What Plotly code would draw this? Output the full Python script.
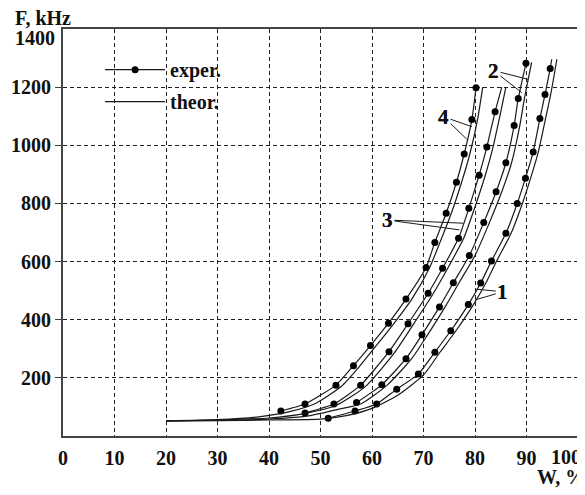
import plotly.graph_objects as go

# ---- data (W, % ; F, kHz) ----
exp4_w = [42.3, 47.0, 53.0, 56.4, 59.7, 63.2, 66.6, 70.5, 72.2, 74.4, 76.4, 77.9, 79.4, 80.2]
exp4_f = [86, 110, 175, 242, 311, 388, 471, 580, 666, 766, 873, 970, 1089, 1198]
th4_w = [20, 30, 38, 44, 49, 54, 57.5, 60.7, 64.2, 67.7, 71.2, 73.2, 75.4, 77.4, 79.0, 80.5, 81.5]
th4_f = [52, 56, 66, 84, 112, 170, 238, 308, 386, 470, 580, 666, 766, 873, 970, 1089, 1200]

exp3_w = [47.0, 52.6, 57.8, 63.3, 67.0, 70.9, 73.7, 76.8, 78.8, 80.8, 82.3, 83.9, 85.2]
exp3_f = [79, 110, 175, 290, 386, 491, 577, 680, 783, 897, 994, 1115, 1200]
exp3_dot = [1, 1, 1, 1, 1, 1, 1, 1, 1, 1, 1, 1, 0]
th3_w = [20, 30, 40, 47, 53, 58.7, 64.3, 68.0, 71.9, 74.7, 77.8, 79.9, 82.0, 83.5, 85.0, 86.0]
th3_f = [52, 55, 62, 78, 105, 170, 285, 383, 490, 577, 680, 783, 897, 994, 1115, 1200]

exp2_w = [57.0, 61.9, 66.6, 69.7, 73.1, 75.8, 78.9, 81.7, 84.1, 86.0, 87.6, 88.4, 89.9]
exp2_f = [115, 176, 266, 348, 444, 527, 621, 734, 840, 940, 1068, 1161, 1282]
th2_w = [20, 30, 40, 48, 53, 58, 63, 67.7, 70.8, 74.2, 76.9, 80.0, 82.8, 85.2, 87.1, 88.7, 89.6, 91.0]
th2_f = [52, 54, 58, 70, 90, 112, 176, 266, 348, 444, 527, 621, 734, 840, 940, 1068, 1161, 1285]

exp1_w = [51.5, 56.7, 60.9, 64.8, 69.0, 72.2, 75.3, 78.7, 81.1, 83.2, 86.0, 88.2, 89.8, 91.3, 92.6, 93.6, 94.6, 94.9]
exp1_f = [61, 86, 110, 161, 213, 288, 362, 452, 526, 602, 697, 800, 887, 977, 1092, 1175, 1264, 1296]
exp1_dot = [1] * 17 + [0]
th1_w = [20, 30, 40, 50, 55, 60, 65, 70, 73.2, 76.3, 79.7, 82.1, 84.2, 87.0, 89.2, 90.8, 92.3, 93.7, 94.7, 95.9]
th1_f = [52, 53, 55, 58, 70, 95, 140, 210, 288, 362, 452, 526, 602, 697, 800, 887, 977, 1092, 1175, 1296]

x_ticks = [0, 10, 20, 30, 40, 50, 60, 70, 80, 90, 100]
y_ticks = [200, 400, 600, 800, 1000, 1200, 1400]

# curve labels: (text, text W, text F, [(W, F) targets])
labels = [
    ("4", 73.9, 1098, [(79.4, 1064), (78.4, 1021)]),
    ("2", 83.6, 1257, [(90.3, 1227), (89.1, 1181)]),
    ("3", 63.0, 743, [(77.7, 732), (77.0, 709)]),
    ("1", 85.4, 496, [(80.3, 505), (80.0, 468)]),
]

FONT = "Liberation Serif"
INK = "#1a1a1a"
BOLD = dict(family=FONT, size=20, color="#111", weight="bold")

fig = go.Figure()

exper = [(exp4_w, exp4_f, None), (exp3_w, exp3_f, exp3_dot), (exp2_w, exp2_f, None), (exp1_w, exp1_f, exp1_dot)]
theor = [(th4_w, th4_f), (th3_w, th3_f), (th2_w, th2_f), (th1_w, th1_f)]

for i, (w, f, dots) in enumerate(exper):
    sizes = 7 if dots is None else [7 if d else 0 for d in dots]
    fig.add_trace(go.Scatter(
        x=w, y=f, mode="lines+markers", name="exper.",
        line=dict(color=INK, width=1.2, shape="spline", smoothing=0.5),
        marker=dict(color="black", size=sizes, opacity=1, line=dict(width=0)),
        showlegend=(i == 0), legendrank=1, legendgroup="e",
    ))
for i, (w, f) in enumerate(theor):
    fig.add_trace(go.Scatter(
        x=w, y=f, mode="lines", name="theor.",
        line=dict(color=INK, width=1.2, shape="spline", smoothing=0.6),
        showlegend=(i == 0), legendrank=2, legendgroup="t",
    ))

annotations = []
for text, tw, tf, targets in labels:
    for (pw, pf) in targets:
        annotations.append(dict(
            x=pw, y=pf, ax=tw, ay=tf, xref="x", yref="y", axref="x", ayref="y",
            text=text, showarrow=True, arrowhead=0, arrowwidth=1, arrowcolor=INK,
            standoff=0, startstandoff=0,
            font=dict(family=FONT, size=21, color="#111", weight="bold"),
        ))
annotations.append(dict(
    text="F, kHz", xref="paper", yref="paper", x=-0.097, y=1.026,
    xanchor="left", yanchor="middle", showarrow=False,
    font=dict(family=FONT, size=20, color="#111", weight="bold"),
))
annotations.append(dict(
    text="W, %", xref="paper", yref="paper", x=0.9165, y=-0.1,
    xanchor="left", yanchor="middle", showarrow=False,
    font=dict(family=FONT, size=20, color="#111", weight="bold"),
))
# top y label sits a little below its gridline in the reference
annotations.append(dict(
    text=str(y_ticks[-1]), xref="paper", yref="paper", x=-0.012, y=0.978,
    xanchor="right", yanchor="middle", showarrow=False, font=BOLD,
))
# last x label is pushed left against the page edge in the reference
annotations.append(dict(
    text=str(x_ticks[-1]), xref="paper", yref="paper", x=1.0095, y=-0.052,
    xanchor="right", yanchor="middle", showarrow=False, font=BOLD,
))

# page body has an 8px margin: figure is placed at (8, 8)
fig.update_layout(
    width=577, height=487,
    margin=dict(l=55, r=7, t=21, b=59, autoexpand=False),
    paper_bgcolor="white", plot_bgcolor="white",
    font=dict(family=FONT, size=20, color="#111"),
    annotations=annotations,
    showlegend=True,
    legend=dict(
        x=0.072, y=0.948, xanchor="left", yanchor="top",
        bgcolor="rgba(0,0,0,0)", borderwidth=0,
        font=BOLD, itemwidth=60, tracegroupgap=3,
    ),
    shapes=[dict(
        type="rect", xref="x", yref="y",
        x0=0.2, x1=34.4, y0=1042, y1=1376,
        fillcolor="white", line=dict(width=0), layer="below",
    )],
)

fig.update_xaxes(
    range=[0, 100], tickvals=x_ticks[:-1],
    showgrid=True, gridcolor="#222", griddash="4px,3px", gridwidth=1,
    showline=True, linecolor="#444", linewidth=2, mirror=True,
    ticks="", ticklabelstandoff=3, zeroline=False,
    tickfont=BOLD,
)
fig.update_yaxes(
    range=[0, 1400], tickvals=y_ticks[:-1],
    showgrid=True, gridcolor="#222", griddash="4px,3px", gridwidth=1,
    showline=True, linecolor="#444", linewidth=2, mirror=True,
    ticks="outside", ticklen=6, tickcolor="#444", zeroline=False,
    tickfont=BOLD,
)

fig.write_html("out.html")
